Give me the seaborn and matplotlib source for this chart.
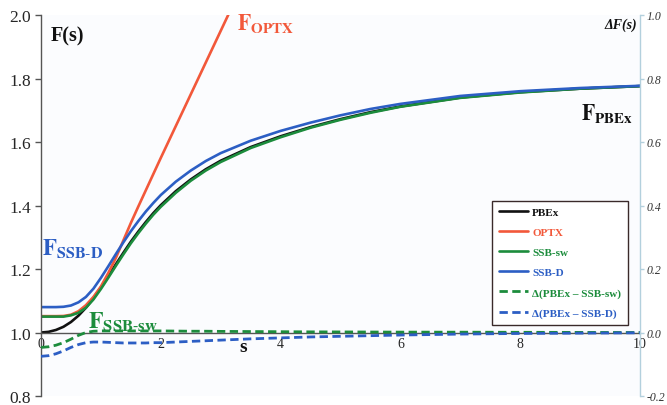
import numpy as np
import pandas as pd
import seaborn as sns
import matplotlib
matplotlib.use("Agg")
import matplotlib.pyplot as plt

# ---------------- data ----------------
s_F = [0, 0.125, 0.25, 0.375, 0.5, 0.625, 0.75, 0.875, 1.0, 1.125, 1.25, 1.375, 1.5,
       1.625, 1.75, 1.875, 2.0, 2.25, 2.5, 2.75, 3.0, 3.5, 4.0, 4.5, 5.0, 5.5, 6.0,
       7.0, 8.0, 9.0, 10.0]
pbex = [1.000, 1.002, 1.008, 1.018, 1.033, 1.053, 1.078, 1.108, 1.142, 1.178, 1.215,
        1.251, 1.286, 1.318, 1.348, 1.376, 1.401, 1.445, 1.482, 1.514, 1.541, 1.584,
        1.618, 1.647, 1.672, 1.694, 1.712, 1.740, 1.757, 1.768, 1.776]
ssb_sw = [1.050, 1.050, 1.050, 1.050, 1.054, 1.062, 1.078, 1.104, 1.137, 1.173, 1.210,
          1.246, 1.281, 1.313, 1.343, 1.371, 1.396, 1.440, 1.478, 1.510, 1.537, 1.581,
          1.615, 1.645, 1.670, 1.692, 1.711, 1.739, 1.756, 1.768, 1.776]
ssb_d = [1.080, 1.080, 1.080, 1.081, 1.085, 1.095, 1.112, 1.138, 1.172, 1.209, 1.247,
         1.284, 1.319, 1.351, 1.381, 1.408, 1.433, 1.475, 1.510, 1.540, 1.565, 1.604,
         1.635, 1.661, 1.684, 1.704, 1.720, 1.745, 1.760, 1.770, 1.777]

s_optx = [0, 0.125, 0.25, 0.375, 0.5, 0.625, 0.75, 0.875, 1.0, 1.125, 1.25, 1.375,
          1.5, 1.625, 1.75, 1.875, 2.0, 2.25, 2.5, 2.75, 3.0, 3.25]
optx = [1.0515, 1.0515, 1.0515, 1.052, 1.056, 1.067, 1.086, 1.112, 1.145, 1.188,
        1.235, 1.290, 1.345, 1.397, 1.448, 1.499, 1.550, 1.650, 1.750, 1.850, 1.950,
        2.050]

s_delta = s_F
d_sw = [-0.047, -0.045, -0.040, -0.032, -0.021, -0.009, 0.000, 0.004, 0.005, 0.005,
        0.005, 0.005, 0.005, 0.005, 0.005, 0.005, 0.005, 0.0045, 0.004, 0.004, 0.0035,
        0.003, 0.0025, 0.002, 0.0018, 0.0015, 0.0012, 0.001, 0.0006, 0.0003, 0.0]
d_d = [-0.075, -0.073, -0.067, -0.058, -0.047, -0.038, -0.032, -0.030, -0.030, -0.031,
       -0.032, -0.033, -0.033, -0.033, -0.033, -0.032, -0.032, -0.030, -0.028, -0.026,
       -0.024, -0.020, -0.017, -0.014, -0.012, -0.010, -0.008, -0.005, -0.003, -0.002,
       -0.001]

y_ticks = [0.8, 1.0, 1.2, 1.4, 1.6, 1.8, 2.0]
y2_ticks = [-0.2, 0.0, 0.2, 0.4, 0.6, 0.8, 1.0]
x_ticks = [0, 2, 4, 6, 8, 10]

# ---------------- style ----------------
sns.set_style("white")
plt.rcParams["font.family"] = ["Liberation Serif", "DejaVu Serif"]
plt.rcParams["mathtext.fontset"] = "stix"

c_black = "#111111"
c_red = "#f2583a"
c_green = "#1c8c3c"
c_blue = "#2c5ec4"
bg = "#fbfcfe"

fig = plt.figure(figsize=(6.67, 4.06), dpi=100, facecolor="white")
ax = fig.add_axes([41 / 667, 1 - 397 / 406, (640 - 41) / 667, (397 - 16) / 406])
ax.set_facecolor(bg)

df_F = pd.DataFrame({"s": s_F, "PBEx": pbex, "SSB-sw": ssb_sw, "SSB-D": ssb_d})
df_O = pd.DataFrame({"s": s_optx, "OPTX": optx})
df_D = pd.DataFrame({"s": s_delta, "sw": d_sw, "D": d_d})

lw = 1.9
sns.lineplot(data=df_F, x="s", y="PBEx", ax=ax, color=c_black, lw=lw, label="PBEx")
sns.lineplot(data=df_O, x="s", y="OPTX", ax=ax, color=c_red, lw=lw, label="OPTX")
sns.lineplot(data=df_F, x="s", y="SSB-sw", ax=ax, color=c_green, lw=lw, label="SSB-sw")
sns.lineplot(data=df_F, x="s", y="SSB-D", ax=ax, color=c_blue, lw=lw, label="SSB-D")

ax.set_xlim(0, 10)
ax.set_ylim(0.8, 2.0)
ax.set_yticks(y_ticks)
ax.set_yticklabels([f"{v:.1f}" for v in y_ticks], fontsize=12.5)
ax.set_xticks(x_ticks)
ax.set_xticklabels([str(v) for v in x_ticks], fontsize=12.5)
ax.set_xlabel("")
ax.set_ylabel("")

for side in ["top", "right"]:
    ax.spines[side].set_visible(False)
ax.spines["left"].set_color("#555555")
ax.spines["left"].set_linewidth(1.0)
ax.spines["bottom"].set_position(("data", 1.0))
ax.spines["bottom"].set_color("#555555")
ax.spines["bottom"].set_linewidth(1.0)
ax.tick_params(axis="y", direction="out", length=4, width=1, color="#555555", pad=3)
ax.tick_params(axis="x", direction="inout", length=4, width=1, color="#555555", pad=1)

# twin axis for delta
ax2 = ax.twinx()
sns.lineplot(data=df_D, x="s", y="sw", ax=ax2, color=c_green, lw=2.0,
             label="Δ(PBEx – SSB-sw)")
sns.lineplot(data=df_D, x="s", y="D", ax=ax2, color=c_blue, lw=2.0,
             label="Δ(PBEx – SSB-D)")
for ln in ax2.get_lines():
    ln.set_dashes((3, 1.6))
ax2.set_ylim(-0.2, 1.0)
ax2.set_yticks(y2_ticks)
ax2.set_yticklabels([f"{v:.1f}" for v in y2_ticks], fontsize=8.5, style="italic",
                    color="#333333")
ax2.set_ylabel("")
ax2.set_xlabel("")
for side in ["top", "left", "bottom"]:
    ax2.spines[side].set_visible(False)
ax2.spines["right"].set_color("#b3d0dd")
ax2.spines["right"].set_linewidth(1.0)
ax2.tick_params(axis="y", direction="out", length=3, width=1, color="#b3d0dd", pad=2)

# legend
h1, l1 = ax.get_legend_handles_labels()
h2, l2 = ax2.get_legend_handles_labels()
if ax.get_legend():
    ax.get_legend().remove()
if ax2.get_legend():
    ax2.get_legend().remove()
leg = ax2.legend(h1 + h2, l1 + l2, loc="upper left", bbox_to_anchor=(0.753, 0.512),
                 prop={"family": "Liberation Serif", "weight": "bold", "size": 8},
                 frameon=True, fancybox=False, edgecolor="#3a2a2a", facecolor="white",
                 framealpha=1, handlelength=2.6, handletextpad=0.4, labelspacing=0.92,
                 borderpad=0.6, borderaxespad=0)
leg.get_frame().set_linewidth(1.0)
for txt, col in zip(leg.get_texts(), [c_black, c_red, c_green, c_blue, c_green, c_blue]):
    txt.set_color(col)

# annotations
ax.text(0.17, 1.935, "F(s)", fontsize=14.5, fontweight="bold", color=c_black,
        va="center", ha="left")
ax.text(3.28, 1.975, r"$\mathbf{F_{OPTX}}$", fontsize=15.5, color=c_red,
        va="center", ha="left")
ax.text(9.02, 1.69, r"$\mathbf{F_{PBEx}}$", fontsize=15.5, color=c_black,
        va="center", ha="left")
ax.text(0.02, 1.265, r"$\mathbf{F_{SSB\text{-}D}}$", fontsize=16.5, color=c_blue,
        va="center", ha="left")
ax.text(0.78, 1.035, r"$\mathbf{F_{SSB\text{-}sw}}$", fontsize=17, color=c_green,
        va="center", ha="left")
ax.text(3.37, 0.955, "s", fontsize=14, fontweight="bold", color=c_black,
        va="center", ha="center")
ax2.text(9.95, 0.97, "ΔF(s)", fontsize=10, fontweight="bold", style="italic",
         color=c_black, va="center", ha="right")

fig.savefig("out.png", dpi=100, facecolor="white")
